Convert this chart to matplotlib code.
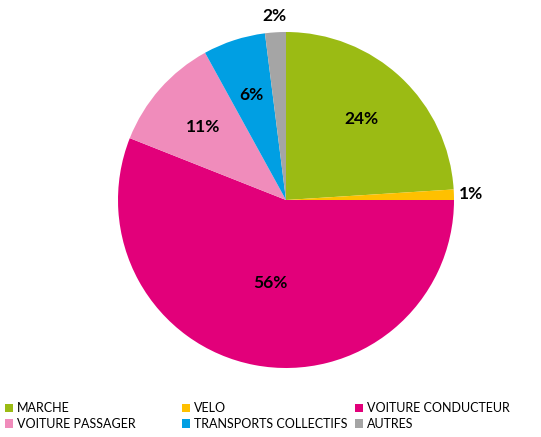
import matplotlib
matplotlib.use("Agg")
import matplotlib.pyplot as plt
from matplotlib.patches import Patch
import numpy as np

# Répartition modale (%)
modes = ["MARCHE", "VELO", "VOITURE CONDUCTEUR",
         "VOITURE PASSAGER", "TRANSPORTS COLLECTIFS", "AUTRES"]
parts = [24, 1, 56, 11, 6, 2]
couleurs = ["#9BBB14", "#FFC000", "#E2007A", "#F08CBB", "#009FE3", "#A5A5A5"]

plt.rcParams['font.family'] = ['Lato', 'DejaVu Sans']

W, H = 541, 437
fig = plt.figure(figsize=(W / 100, H / 100), dpi=100)

# axe carré pour le camembert (en pixels)
cx, cy, r = 286, 200, 168
ax = fig.add_axes([(cx - r) / W, (H - cy - r) / H, 2 * r / W, 2 * r / H])
wedges, _ = ax.pie(parts, colors=couleurs, startangle=90, counterclock=False,
                   radius=1, wedgeprops=dict(linewidth=0))
ax.set_xlim(-1, 1)
ax.set_ylim(-1, 1)
ax.set_aspect('auto')
ax.axis('off')

# étiquettes : dedans pour les grandes parts, dehors pour les petites
for w, v in zip(wedges, parts):
    ang = np.deg2rad((w.theta1 + w.theta2) / 2)
    if v >= 50:
        d = 0.5
    elif v >= 5:
        d = 0.66
    else:
        d = 1.1
    ax.text(d * np.cos(ang), d * np.sin(ang), f"{v}%", ha='center', va='center',
            fontsize=12.5, fontweight='bold', color='black', clip_on=False)

# légende en 3 colonnes, remplie ligne par ligne
handles = [Patch(facecolor=c, edgecolor='none') for c in couleurs]
col_x = [-3, 174, 347]
for i, x in enumerate(col_x):
    idx = [i, i + 3]
    fig.legend([handles[k] for k in idx], [modes[k] for k in idx],
               loc='lower left', bbox_to_anchor=(x / W, 0.0),
               ncol=1, frameon=False, fontsize=9, handlelength=0.7,
               handleheight=0.7, handletextpad=0.3, labelspacing=0.25,
               borderaxespad=0.2)

fig.savefig("out.png", dpi=100)
